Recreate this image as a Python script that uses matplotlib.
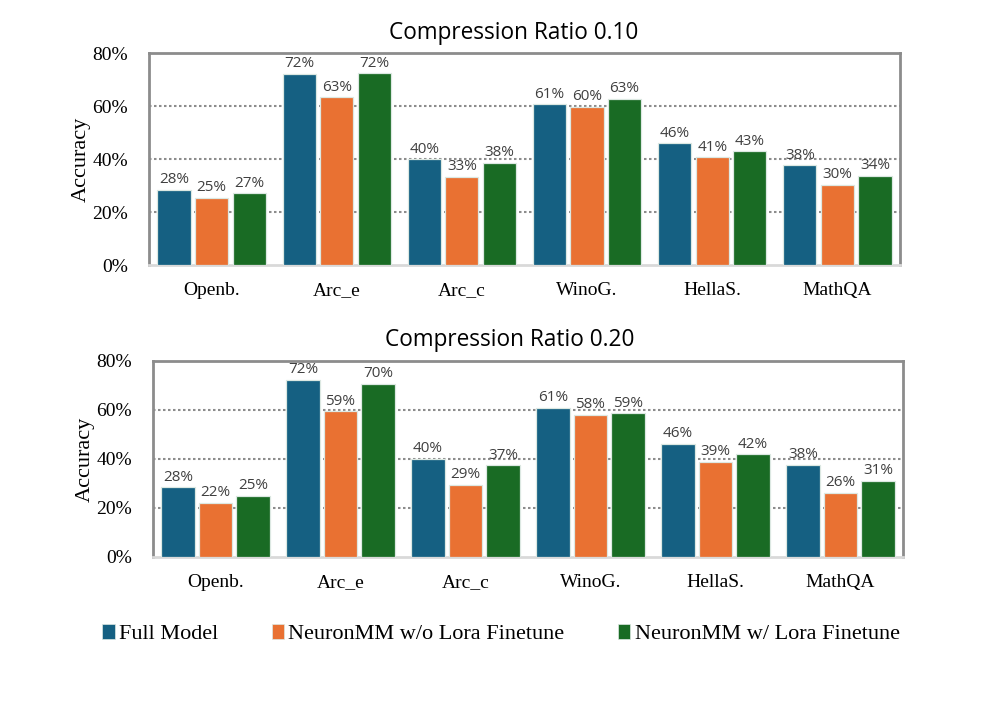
import numpy as np
import matplotlib
matplotlib.use("Agg")
import matplotlib.pyplot as plt
from matplotlib.patches import Patch
from matplotlib.ticker import PercentFormatter

tasks = ["Openb.", "Arc_e", "Arc_c", "WinoG.", "HellaS.", "MathQA"]
series = ["Full Model", "NeuronMM w/o Lora Finetune", "NeuronMM w/ Lora Finetune"]
colors = ["#156082", "#E97132", "#196B24"]

# accuracy in percent, ratio 0.10
full_10 = [28.3, 72.0, 39.9, 60.6, 45.9, 37.6]
wo_lora_10 = [25.3, 63.3, 33.2, 59.6, 40.6, 30.2]
w_lora_10 = [27.0, 72.3, 38.4, 62.6, 42.9, 33.6]

# accuracy in percent, ratio 0.20
full_20 = [28.4, 72.4, 40.0, 60.8, 46.1, 37.7]
wo_lora_20 = [22.0, 59.4, 29.4, 58.1, 38.9, 26.2]
w_lora_20 = [24.9, 70.5, 37.4, 58.6, 41.9, 31.1]

panels = [
    ("Compression Ratio 0.10", [full_10, wo_lora_10, w_lora_10]),
    ("Compression Ratio 0.20", [full_20, wo_lora_20, w_lora_20]),
]

serif = "Liberation Serif"
sans = "Open Sans"

fig = plt.figure(figsize=(9.96, 7.13), dpi=100)
rects = [[0.1496, 0.6283, 0.754, 0.2973], [0.1536, 0.2188, 0.753, 0.2749]]
title_pos = [(514 / 996, 1 - 33 / 713), (510 / 996, 1 - 340 / 713)]

x = np.arange(len(tasks))
width = 0.265
offsets = [-0.3, 0.0, 0.3]

for (title, vals), rect, tpos in zip(panels, rects, title_pos):
    ax = fig.add_axes(rect)
    for vs, off, c in zip(vals, offsets, colors):
        bars = ax.bar(x + off, vs, width, color=c, edgecolor="#dce8e2",
                      linewidth=0.9, zorder=3)
        ax.bar_label(bars, labels=[f"{round(v)}%" for v in vs], padding=2,
                     fontsize=11, color="#404040", family=sans)
    ax.set_xlim(-0.5, len(tasks) - 0.5)
    ax.set_ylim(0, 80)
    ax.set_yticks([0, 20, 40, 60, 80])
    ax.yaxis.set_major_formatter(PercentFormatter(decimals=0))
    ax.set_xticks(x)
    ax.set_xticklabels(tasks)
    for lbl in ax.get_xticklabels() + ax.get_yticklabels():
        lbl.set_family(serif)
        lbl.set_fontsize(14)
    ax.tick_params(axis="both", length=0)
    ax.tick_params(axis="y", pad=15)
    ax.tick_params(axis="x", pad=12)
    ax.set_ylabel("Accuracy", family=serif, fontsize=16, labelpad=1)
    for y in [20, 40, 60]:
        ax.axhline(y, color="#8c8c8c", linestyle=(0, (1.2, 1.2)), linewidth=1.5, zorder=1)
    for s in ["top", "left", "right"]:
        ax.spines[s].set_color("#8c8c8c")
        ax.spines[s].set_linewidth(2)
    ax.spines["bottom"].set_color("#d9d9d9")
    ax.spines["bottom"].set_linewidth(2)
    fig.text(tpos[0], tpos[1], title, ha="center", va="center", family=sans, fontsize=16.3)

handles = [Patch(facecolor=c, edgecolor="#dce8e2", linewidth=0.5) for c in colors]
fig.legend(handles, series, loc="center", bbox_to_anchor=(0.503, 1 - 634 / 713), ncol=3,
           frameon=False, prop={"family": serif, "size": 16}, handlelength=0.55,
           handleheight=0.7, handletextpad=0.2, columnspacing=2.4)

fig.savefig("out.png", dpi=100)
